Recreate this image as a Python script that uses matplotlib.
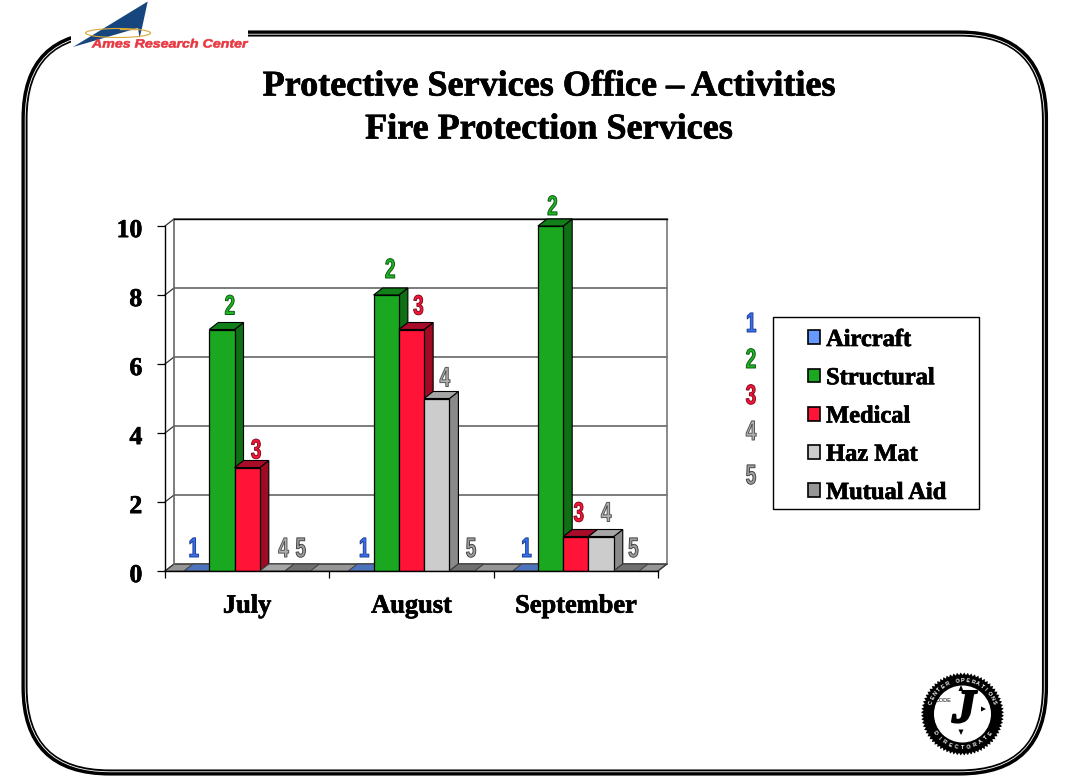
import numpy as np
import matplotlib
matplotlib.use('Agg')
import matplotlib.pyplot as plt
import matplotlib.patheffects as pe
from matplotlib.patches import FancyBboxPatch, Polygon, Rectangle, Ellipse, Circle, Patch
from matplotlib.transforms import Affine2D, ScaledTranslation

months = ['July', 'August', 'September']
series = ['Aircraft', 'Structural', 'Medical', 'Haz Mat', 'Mutual Aid']
aircraft = [0, 0, 0]
structural = [7, 8, 10]
medical = [3, 7, 1]
haz_mat = [0, 5, 1]
mutual_aid = [0, 0, 0]
values = [aircraft, structural, medical, haz_mat, mutual_aid]
yticks = [0, 2, 4, 6, 8, 10]

front = ['#6699ff', '#1aa820', '#ff1438', '#cccccc', '#969696']
side = ['#3d5c99', '#0f6f14', '#a00a22', '#8a8a8a', '#5a5a5a']
top = ['#4d73bf', '#128018', '#a80c28', '#a6a6a6', '#707070']
edge_num = ['#1c3f90', '#0d5a12', '#800a1e', '#555555', '#444444']
fill_num = ['#3a6ff5', '#1fb526', '#ff1438', '#b0b0b0', '#a0a0a0']
# px nudges of the little number labels, by series then month
nudge = [[-3, 3, 1], [8, 4, 2], [9, 7, 3], [11, 8, 5], [3, 9, 7]]
lift = [[21, 21, 21], [22, 24, 18], [16, 22, 22], [21, 19, 22], [21, 21, 21]]

W, H = 1080, 781
serif = 'Liberation Serif'
heavy = [pe.withStroke(linewidth=0.5, foreground='black')]
fig = plt.figure(figsize=(W / 100, H / 100), dpi=100, facecolor='white')


class Squeezed(pe.AbstractPathEffect):
    # resize the glyphs around their middle and outline them, like the wordart digits
    def __init__(self, edge, lw=0.7, sx=0.68):
        super().__init__()
        self.edge, self.lw, self.sx = edge, lw, sx

    def draw_path(self, renderer, gc, tpath, affine, rgbFace=None):
        b = tpath.get_extents()
        mid = (b.x0 + b.x1) / 2
        t = Affine2D().translate(-mid, 0).scale(self.sx, 1).translate(mid, 0) + affine
        gc0 = renderer.new_gc()
        gc0.copy_properties(gc)
        gc0.set_foreground(self.edge)
        gc0.set_linewidth(self.lw)
        renderer.draw_path(gc0, tpath, t, rgbFace)
        gc0.restore()


def digit(s):
    return dict(family='Liberation Sans', weight='bold', size=20, color=fill_num[s],
                ha='center', va='center', path_effects=[Squeezed(edge_num[s])])


# page furniture, in pixel coordinates
bg = fig.add_axes([0, 0, 1, 1], zorder=0)
bg.set_xlim(0, W)
bg.set_ylim(H, 0)
bg.axis('off')


def frame(inset, lw, color):
    x0, y0, x1, y1 = 24.5 + inset, 33.5 + inset, 1045 - inset, 772.5 - inset
    bg.add_patch(FancyBboxPatch((x0 + 85, y0 + 85), x1 - x0 - 170, y1 - y0 - 170,
                                boxstyle='round,pad=85,rounding_size=85',
                                fc='none', ec=color, lw=lw))


frame(0, 4.4, 'black')
frame(0.7, 0.6, 'white')

# logo
bg.add_patch(Rectangle((71, 0), 177, 50, fc='white', ec='none', zorder=2))
bg.add_patch(Polygon([(147.7, 1.5), (73, 47), (138, 28), (139.5, 38), (142, 28)],
                     fc='#17467f', ec='none', zorder=3))
bg.add_patch(Ellipse((118, 33), 65, 9, fc='none', ec='#d9a93a', lw=0.8, zorder=4))
bg.plot([120, 137], [29, 29], color='#d9a93a', lw=1, zorder=5)
bg.text(169.5, 44.5, 'Ames Research Center', family='Liberation Sans', weight='bold',
        style='italic', size=8.6, color='#e8353f', ha='center', va='center', zorder=5,
        path_effects=[Squeezed('#e8353f', lw=0.4, sx=1.19)])

# title
bg.text(549, 87, 'Protective Services Office – Activities', family=serif, weight='bold',
        size=26, ha='center', va='center', path_effects=heavy)
bg.text(549, 130, 'Fire Protection Services', family=serif, weight='bold',
        size=26, ha='center', va='center', path_effects=heavy)

# seal
cx, cy, r = 962.5, 714, 39
angles = np.linspace(0, 2 * np.pi, 145)
rr = r + 2.5 * (np.arange(145) % 2)
bg.add_patch(Polygon(np.c_[cx + rr * np.cos(angles), cy + rr * np.sin(angles)], fc='black', ec='none'))
bg.add_patch(Circle((cx, cy), 28.5, fc='white', ec='none'))
bg.text(964, 711, 'J', family=serif, weight='bold', style='italic', size=34,
        ha='center', va='center', path_effects=[pe.withStroke(linewidth=1.6, foreground='black')])
bg.text(936, 701, 'CODE', family='Liberation Sans', size=4, ha='left', va='center')
bg.add_patch(Polygon([(961, 685), (958.5, 691), (963.5, 691)], fc='black'))
bg.add_patch(Polygon([(986, 709), (981, 706.5), (981, 711.5)], fc='black'))
bg.add_patch(Polygon([(961, 735), (958.5, 729.5), (963.5, 729.5)], fc='black'))
ring_top = 'CENTER OPERATIONS'
ring_low = 'DIRECTORATE'
for i, ch in enumerate(ring_top):
    a = np.radians(-160 + i * 140 / (len(ring_top) - 1))
    bg.text(cx + 33.5 * np.cos(a), cy + 33.5 * np.sin(a), ch, family='Liberation Sans', weight='bold',
            size=4, color='white', ha='center', va='center', rotation=-np.degrees(a) - 90)
for i, ch in enumerate(ring_low):
    a = np.radians(145 - i * 110 / (len(ring_low) - 1))
    bg.text(cx + 33.5 * np.cos(a), cy + 33.5 * np.sin(a), ch, family='Liberation Sans', weight='bold',
            size=4, color='white', ha='center', va='center', rotation=-np.degrees(a) + 90)

# chart: y=0 at 571px, y=10 at 226px, categories 164.5px wide
ax = fig.add_axes([165 / W, 1 - 571 / H, 493 / W, 345 / H], zorder=1)
ax.patch.set_alpha(0)
ax.set_xlim(0, 3)
ax.set_ylim(0, 10)
dx = 9 / (493 / 3)
dy = 7 / 34.5
bw = 1 / 6.5

ax.add_patch(Polygon([(0, 0), (dx, dy), (3 + dx, dy), (3, 0)], fc='#969696', ec='#555555', lw=0.7, clip_on=False))
for v in yticks:
    ax.plot([0, dx, 3 + dx], [v, v + dy, v + dy], color='#333333', lw=0.9, clip_on=False, zorder=1)
ax.plot([dx, dx], [dy, 10 + dy], color='#666666', lw=1.2, clip_on=False, zorder=1)
ax.plot([3 + dx, 3 + dx], [dy, 10 + dy], color='#777777', lw=1.2, clip_on=False, zorder=1)
ax.plot([3, 3 + dx], [0, dy], color='#333333', lw=0.9, clip_on=False, zorder=1)
ax.plot([dx, 3 + dx], [10 + dy, 10 + dy], color='black', lw=1, clip_on=False, zorder=1)

z = 3
for m in range(len(months)):
    for s in range(len(series)):
        v = values[s][m]
        x = m + 0.75 * bw + s * bw
        if v > 0:
            ax.add_patch(Polygon([(x + bw, 0), (x + bw + dx, dy), (x + bw + dx, v + dy), (x + bw, v)],
                                 fc=side[s], ec='black', lw=0.8, zorder=z, clip_on=False))
        ax.add_patch(Polygon([(x, v), (x + dx, v + dy), (x + bw + dx, v + dy), (x + bw, v)],
                             fc=top[s], ec='black' if v > 0 else '#444444', lw=0.8, zorder=z, clip_on=False))
        if v > 0:
            ax.bar(x, v, bw, align='edge', color=front[s], edgecolor='black', lw=0.9, zorder=z)
        ax.annotate(str(s + 1), (x + bw / 2, v), xytext=(nudge[s][m] * 0.72, lift[s][m] * 0.72),
                    textcoords='offset points', annotation_clip=False, zorder=50, **digit(s))
        z += 1

for sp in ['top', 'right']:
    ax.spines[sp].set_visible(False)
for sp in ['left', 'bottom']:
    ax.spines[sp].set_linewidth(1)
    ax.spines[sp].set_zorder(40)
ax.set_yticks(yticks)
ax.set_yticklabels([str(v) for v in yticks], family=serif, weight='bold', size=18.5, path_effects=heavy)
ax.tick_params(axis='y', length=5.8, width=0.9, pad=10.5)
ax.set_xticks([0, 1, 2, 3])
ax.set_xticklabels([])
ax.tick_params(axis='x', length=5, width=0.9)
ax.set_xticks([0.5, 1.5, 2.5], minor=True)
ax.set_xticklabels(months, minor=True, family=serif, weight='bold', size=19, path_effects=heavy)
ax.tick_params(axis='x', which='minor', length=0, pad=17)
down = ScaledTranslation(0, -1.5 / 72, fig.dpi_scale_trans)
for label in ax.get_yticklabels():
    label.set_transform(label.get_transform() + down)

# legend
bg.add_patch(Rectangle((772.5, 316.5), 206, 192, fc='white', ec='black', lw=1))
handles = [Patch(fc=c, ec='black', lw=1.2) for c in front]
leg = ax.legend(handles, series, loc='upper left', bbox_to_anchor=(808 / W, 1 - 330 / H),
                bbox_transform=fig.transFigure, frameon=False, borderpad=0, borderaxespad=0,
                prop={'family': serif, 'weight': 'bold', 'size': 17.6}, handlelength=0.49, handleheight=0.49,
                handletextpad=0.25, labelspacing=0.705)
for t in leg.get_texts():
    t.set_path_effects(heavy)

for s, y in enumerate([325, 361, 397, 433, 477]):
    bg.text(751, y, str(s + 1), **digit(s))

fig.savefig('out.png', dpi=100)
